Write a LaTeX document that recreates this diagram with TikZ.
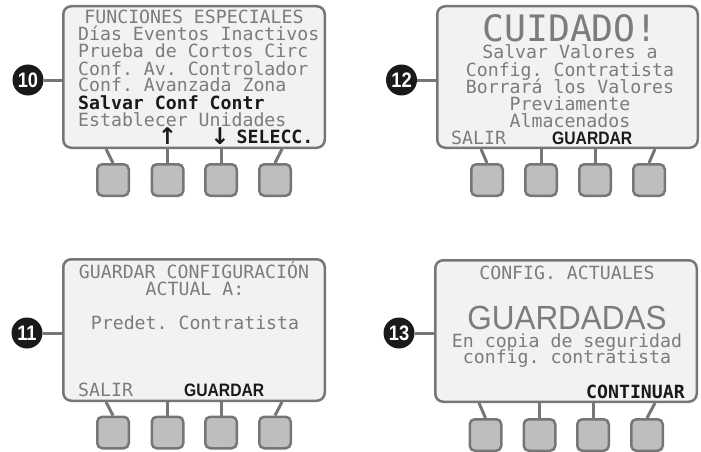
\documentclass[tikz,border=0pt]{standalone}
\usepackage{fontspec}
\setmonofont{DejaVu Sans Mono}
\newfontfamily\condsans[FakeStretch=0.87]{Liberation Sans}
\newfontfamily\bigsans[FakeStretch=0.94]{Liberation Sans}
\newfontfamily\arrowfont{DejaVu Sans}
\definecolor{scr}{HTML}{F2F2F2}
\definecolor{edge}{HTML}{767676}
\definecolor{btnfill}{HTML}{BDBEC0}
\definecolor{txt}{HTML}{7C7C7C}
\definecolor{ink}{HTML}{1A1A1A}
\begin{document}
\begin{tikzpicture}[x=1pt,y=-1pt,
  screen/.style={draw=edge, fill=scr, line width=2.5pt, rounded corners=8pt,
    minimum width=261.5pt, minimum height=141.5pt, inner sep=0pt},
  btn/.style={draw=edge, fill=btnfill, line width=2.5pt, rounded corners=5pt,
    minimum width=31.5pt, minimum height=31.5pt, inner sep=0pt},
  stem/.style={draw=edge, line width=3pt},
  badge/.style={circle, fill=ink, minimum size=31pt, inner sep=0pt, text=white,
    font=\condsans\bfseries\fontsize{21}{21}\selectfont},
  lcd/.style={text=txt, font=\ttfamily\fontsize{18.2}{17}\selectfont, inner sep=0pt,
    anchor=base, text height=12.5pt, text depth=3.5pt},
  lcdl/.style={lcd, anchor=base west},
  lcdb/.style={lcd, text=ink, font=\ttfamily\bfseries\fontsize{18.2}{17}\selectfont},
  arrowkey/.style={lcd, text=ink, font=\arrowfont\bfseries\fontsize{23}{23}\selectfont},
  lcdbig/.style={lcd, font=\ttfamily\fontsize{36.4}{36}\selectfont, text height=26pt, text depth=0pt},
  softkey/.style={text=ink, font=\condsans\bfseries\fontsize{18}{18}\selectfont, inner sep=0pt,
    anchor=base west, text height=12.5pt, text depth=0pt},
  bigword/.style={text=txt, font=\bigsans\fontsize{33.5}{34}\selectfont, inner sep=0pt,
    anchor=base, text height=24pt, text depth=0pt}
]
\useasboundingbox (0,0) rectangle (701,452);

% ---------- Panel 10 ----------
\foreach \i/\x in {1/113,2/167.5,3/221,4/275}{\node[btn] (b10\i) at (\x,180) {};}
\coordinate (t101) at (106,149);
\coordinate (t104) at (282,149);
\node[screen] (s10) at (194,77) {};
\draw[stem] (t101) -- (b101.north);
\draw[stem] (b102) -- (b102 |- s10.south);
\draw[stem] (b103) -- (b103 |- s10.south);
\draw[stem] (t104) -- (b104.north);
\node[badge] (n10) at (28,80) {10};
\draw[stem] (n10) -- (n10 -| s10.west);
\node[lcd]  (p10a) at (194,24) {FUNCIONES ESPECIALES};
\node[lcdl] (p10b) at (78,41) {Días Eventos Inactivos};
\node[lcdl] (p10c) at (78,58) {Prueba de Cortos Circ};
\node[lcdl] (p10d) at (78,75) {Conf. Av. Controlador};
\node[lcdl] (p10e) at (78,92) {Conf. Avanzada Zona};
\node[lcdb, anchor=base west] (p10f) at (78,109) {Salvar Conf Contr};
\node[lcdl] (p10g) at (78,126) {Establecer Unidades};
\node[arrowkey] (p10h) at (167.5,144) {↑};
\node[arrowkey] (p10i) at (220,144) {↓};
\node[lcdb, anchor=base west] (p10j) at (236.5,143) {SELECC.};

% ---------- Panel 12 ----------
\foreach \i/\x in {1/487,2/541,3/595,4/649}{\node[btn] (b12\i) at (\x,180) {};}
\coordinate (t121) at (481,149);
\coordinate (t124) at (655,149);
\node[screen, minimum width=260.5pt] (s12) at (567.5,77) {};
\draw[stem] (t121) -- (b121.north);
\draw[stem] (b122) -- (b122 |- s12.south);
\draw[stem] (b123) -- (b123 |- s12.south);
\draw[stem] (t124) -- (b124.north);
\node[badge] (n12) at (401.5,80) {12};
\draw[stem] (n12) -- (n12 -| s12.west);
\node[lcdbig] (p12a) at (570,42) {CUIDADO!};
\node[lcd] (p12b) at (570,59) {Salvar Valores a};
\node[lcd] (p12c) at (570,76) {Config. Contratista};
\node[lcd] (p12d) at (570,93) {Borrará los Valores};
\node[lcd] (p12e) at (570,110) {Previamente};
\node[lcd] (p12f) at (570,127) {Almacenados};
\node[lcdl] (p12g) at (451,144) {SALIR};
\node[softkey] (p12h) at (552,144) {GUARDAR};

% ---------- Panel 11 ----------
\foreach \i/\x in {1/113,2/167.5,3/221,4/275}{\node[btn] (b11\i) at (\x,432.5) {};}
\coordinate (t111) at (106,402);
\coordinate (t114) at (282,402);
\node[screen] (s11) at (194,330) {};
\draw[stem] (t111) -- (b111.north);
\draw[stem] (b112) -- (b112 |- s11.south);
\draw[stem] (b113) -- (b113 |- s11.south);
\draw[stem] (t114) -- (b114.north);
\node[badge] (n11) at (27,333) {11};
\draw[stem] (n11) -- (n11 -| s11.west);
\node[lcd] (p11a) at (194,278) {GUARDAR CONFIGURACIÓN};
\node[lcd] (p11b) at (195,295) {ACTUAL A:};
\node[lcd] (p11c) at (195,329) {Predet. Contratista};
\node[lcdl] (p11d) at (78,396) {SALIR};
\node[softkey] (p11e) at (184,396) {GUARDAR};

% ---------- Panel 13 ----------
\foreach \i/\x in {1/485.5,2/539.5,3/593,4/647}{\node[btn] (b13\i) at (\x,435) {};}
\coordinate (t131) at (479,403);
\coordinate (t134) at (655,403);
\node[screen] (s13) at (566,331) {};
\draw[stem] (t131) -- (b131.north);
\draw[stem] (b132) -- (b132 |- s13.south);
\draw[stem] (b133) -- (b133 |- s13.south);
\draw[stem] (t134) -- (b134.north);
\node[badge] (n13) at (399,333) {13};
\draw[stem] (n13) -- (n13 -| s13.west);
\node[lcd] (p13a) at (567,279) {CONFIG. ACTUALES};
\node[bigword] (p13b) at (567,329) {GUARDADAS};
\node[lcd] (p13c) at (567,347) {En copia de seguridad};
\node[lcd] (p13d) at (567,363) {config. contratista};
\node[lcdb, anchor=base east] (p13e) at (685,398) {CONTINUAR};
\end{tikzpicture}
\end{document}
